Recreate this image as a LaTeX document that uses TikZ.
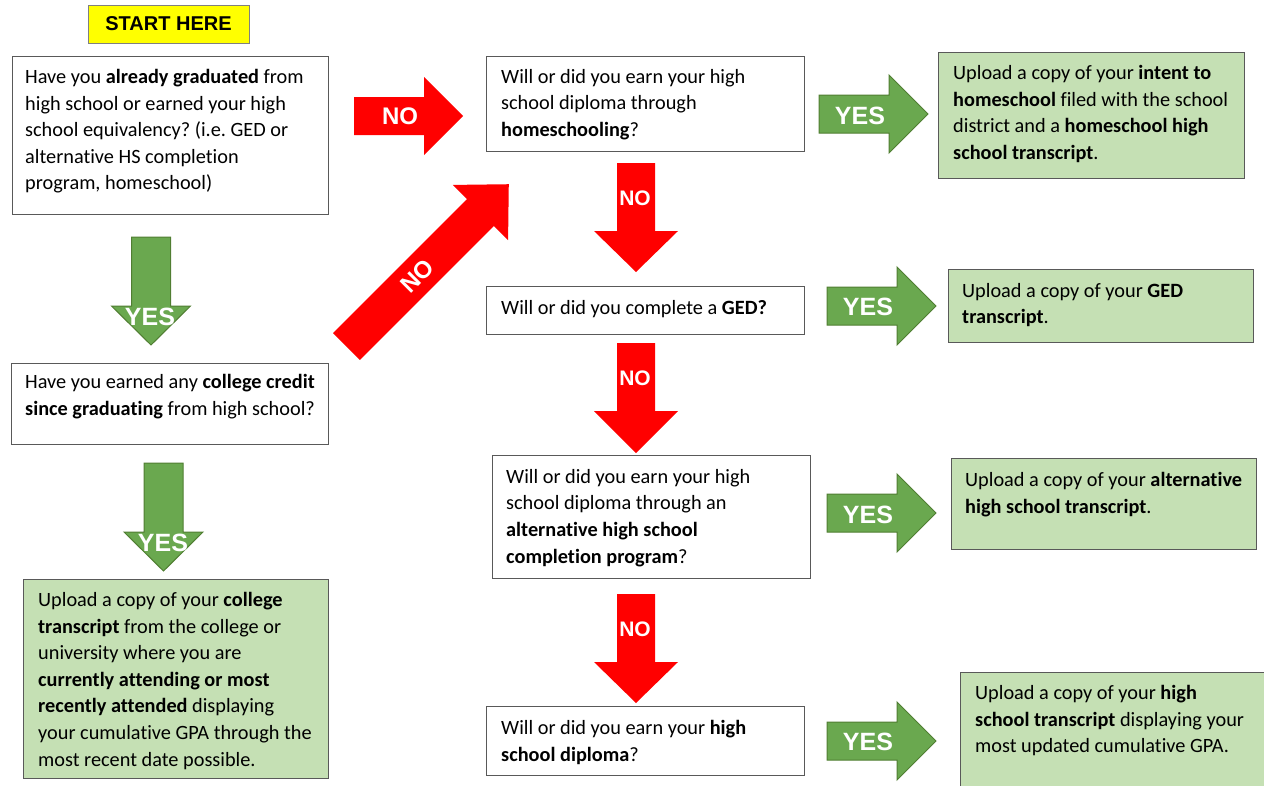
\documentclass[tikz,border=0pt]{standalone}
\usepackage{fontspec}
\setmainfont[Ligatures=NoCommon]{Carlito}
\newfontfamily\arialfont{Liberation Sans}
\frenchspacing
\definecolor{boxgray}{HTML}{595959}
\definecolor{ansgreen}{HTML}{C5E0B4}
\definecolor{arrgreen}{HTML}{6AA84F}
\definecolor{arrgreendark}{HTML}{507E32}
\definecolor{noRed}{HTML}{FF0000}
\definecolor{startyellow}{HTML}{FFFF00}
\tikzset{
  qbox/.style={draw=boxgray, line width=1.2pt, fill=white, inner sep=0pt, anchor=north west},
  abox/.style={qbox, fill=ansgreen},
  txt/.style={inner sep=0pt, anchor=north west, align=left, text=black, yshift=-5pt,
    font=\fontsize{20.3}{26.6}\selectfont, execute at begin node={\rule{0pt}{18pt}}},
  lbl/.style={text=white, font=\arialfont\bfseries\fontsize{25}{25}\selectfont, inner sep=0pt},
  redarr/.style={fill=noRed, draw=none},
  greenarr/.style={fill=arrgreen, draw=arrgreendark, line width=1pt, line join=miter},
  pics/barrow/.style args={#1/#2/#3/#4/#5}{code={
    \filldraw[#1] (0,-#3) -- (#2,-#3) -- (#2,-#4) -- (#2+#5,0) -- (#2,#4) -- (#2,#3) -- (0,#3) -- cycle;}}
}
\begin{document}
\begin{tikzpicture}[x=1pt,y=-1pt]
\useasboundingbox (0,0) rectangle (1264,785);
\clip (0,0) rectangle (1264,785);
\fill[white] (0,0) rectangle (1264,785);

% start
\node[draw=gray, line width=1pt, fill=startyellow, minimum width=161pt, minimum height=38pt, inner sep=0pt,
  font=\arialfont\bfseries\fontsize{20}{20}\selectfont] (start) at (168.5,24) {START HERE};

% left column
\node[qbox, minimum width=316pt, minimum height=158pt] (q1) at (12,56) {};
\node[txt] (q1t) at (25,64) {Have you \textbf{already graduated} from\\high school or earned your high\\school equivalency? (i.e. GED or\\alternative HS completion\\program, homeschool)};

\node[qbox, minimum width=317pt, minimum height=81pt] (q2) at (11,363) {};
\node[txt] (q2t) at (25,369) {Have you earned any \textbf{college credit}\\\textbf{since graduating} from high school?};

\node[abox, minimum width=305pt, minimum height=199pt] (a1) at (23,579) {};
\node[txt] (a1t) at (38,587) {Upload a copy of your \textbf{college}\\\textbf{transcript} from the college or\\university where you are\\\textbf{currently attending or most}\\\textbf{recently attended} displaying\\your cumulative GPA through the\\most recent date possible.};

% middle column
\node[qbox, minimum width=318pt, minimum height=95pt] (q3) at (486,56) {};
\node[txt] (q3t) at (501,64) {Will or did you earn your high\\school diploma through\\\textbf{homeschooling}?};

\node[qbox, minimum width=318pt, minimum height=48pt] (q4) at (486,286) {};
\node[txt] (q4t) at (501,291) {Will or did you complete a \textbf{GED?}};

\node[qbox, minimum width=318pt, minimum height=123pt] (q5) at (492,455) {};
\node[txt] (q5t) at (506,464) {Will or did you earn your high\\school diploma through an\\\textbf{alternative high school}\\\textbf{completion program}?};

\node[qbox, minimum width=318pt, minimum height=69pt] (q6) at (486,706) {};
\node[txt] (q6t) at (501,715) {Will or did you earn your \textbf{high}\\\textbf{school diploma}?};

% right column
\node[abox, minimum width=306pt, minimum height=126pt] (a2) at (938,52) {};
\node[txt] (a2t) at (953,60) {Upload a copy of your \textbf{intent to}\\\textbf{homeschool} filed with the school\\district and a \textbf{homeschool high}\\\textbf{school transcript}.};

\node[abox, minimum width=305pt, minimum height=73pt] (a3) at (948,269) {};
\node[txt] (a3t) at (962,278) {Upload a copy of your \textbf{GED}\\\textbf{transcript}.};

\node[abox, minimum width=305pt, minimum height=91pt] (a4) at (951,458) {};
\node[txt] (a4t) at (965,467) {Upload a copy of your \textbf{alternative}\\\textbf{high school transcript}.};

\node[abox, minimum width=330pt, minimum height=130pt] (a5) at (960,672) {};
\node[txt] (a5t) at (975,680) {Upload a copy of your \textbf{high}\\\textbf{school transcript} displaying your\\most updated cumulative GPA.};

% green YES arrows
\pic[rotate=-90] at (151,237) {barrow=greenarr/69/19.5/39.5/39};
\node[lbl] (yA) at (150,317) {YES};
\pic[rotate=-90] at (163.5,463) {barrow=greenarr/69/19.5/39.5/39};
\node[lbl] (yB) at (163,543) {YES};

\pic at (819,114) {barrow=greenarr/70/19/39/39};
\node[lbl] (y1) at (860,116) {YES};
\pic at (827,306) {barrow=greenarr/70/19/39/39};
\node[lbl] (y2) at (868,307) {YES};
\pic at (827,513) {barrow=greenarr/70/19/39/39};
\node[lbl] (y3) at (868,515) {YES};
\pic at (827,741) {barrow=greenarr/70/19/39/39};
\node[lbl] (y4) at (868,742) {YES};

% red NO arrows
\pic at (354,116) {barrow=redarr/70/19/39/39};
\node[lbl, font=\arialfont\bfseries\fontsize{24}{24}\selectfont] (n1) at (400,116) {NO};
\pic[rotate=45] at (346.5,346.5) {barrow=redarr/189.5/19/39/40};
\node[lbl, rotate=45, font=\arialfont\bfseries\fontsize{24}{24}\selectfont] (n2) at (417,276) {NO};
\pic[rotate=-90] at (636,163) {barrow=redarr/68/19/42/41};
\node[lbl, font=\arialfont\bfseries\fontsize{21}{21}\selectfont] (n3) at (635,198) {NO};
\pic[rotate=-90] at (636,343) {barrow=redarr/68/19/42/42};
\node[lbl, font=\arialfont\bfseries\fontsize{21}{21}\selectfont] (n4) at (635,378) {NO};
\pic[rotate=-90] at (636,594) {barrow=redarr/68/19/42/41};
\node[lbl, font=\arialfont\bfseries\fontsize{21}{21}\selectfont] (n5) at (635,629) {NO};
\end{tikzpicture}
\end{document}
